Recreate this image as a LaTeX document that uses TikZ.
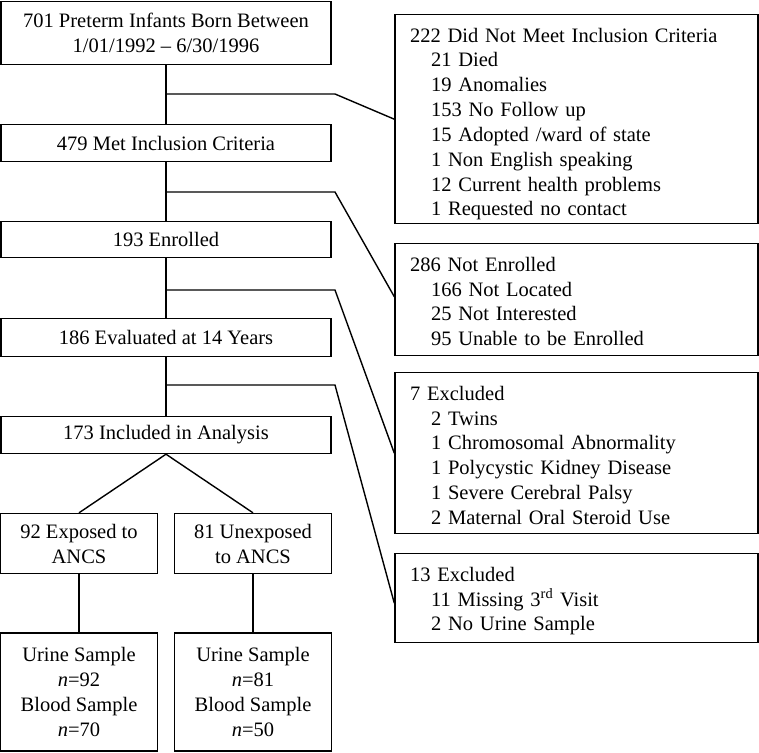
\documentclass[tikz,border=0pt]{standalone}
\usepackage{fontspec}
\setmainfont{Liberation Serif}
\usetikzlibrary{shapes}
\tikzstyle{stage} = [rectangle, minimum width=330pt, minimum height=37pt, inner sep=0pt, text centered, align=center, draw=black, line width=1.4pt, font=\fontsize{20.5}{25}\selectfont]
\tikzstyle{arm} = [stage, minimum width=157pt, minimum height=60pt]
\tikzstyle{sample} = [stage, minimum width=157pt, minimum height=118pt]
\tikzstyle{reason} = [rectangle, anchor=north, minimum width=363pt, text width=333pt, text height=27.5pt, inner xsep=15pt, inner ysep=0pt, align=left, draw=black, line width=1.4pt, font=\fontsize{20.5}{24.8}\selectfont]
\tikzstyle{link} = [line width=1.4pt]
\newcommand{\subline}[1]{\hspace*{21pt}#1}

\begin{document}
\begin{tikzpicture}[x=1pt, y=1pt, yscale=-1]
\useasboundingbox (0,0) rectangle (759,752);

\node at (166, 33) (born) [stage, minimum height=63pt] {701 Preterm Infants Born Between\\1/01/1992 -- 6/30/1996};
\node at (166, 143) (met) [stage] {479 Met Inclusion Criteria};
\node at (166, 239.5) (enrolled) [stage, minimum height=36pt] {193 Enrolled};
\node at (166, 337.5) (evaluated) [stage, minimum height=38pt] {186 Evaluated at 14 Years};
\node at (166, 435) (included) [stage] {173 Included in Analysis};
\node at (79, 543.5) (exposed) [arm] {92 Exposed to\\ANCS};
\node at (253, 543.5) (unexposed) [arm] {81 Unexposed\\to ANCS};
\node at (79, 692) (exposedsample) [sample] {Urine Sample\\\textit{n}=92\\Blood Sample\\\textit{n}=70};
\node at (253, 692) (unexposedsample) [sample] {Urine Sample\\\textit{n}=81\\Blood Sample\\\textit{n}=50};

\node at (576.5, 14) (notmet) [reason, text depth=181.5pt] {222 Did Not Meet Inclusion Criteria\\\subline{21 Died}\\\subline{19 Anomalies}\\\subline{153 No Follow up}\\\subline{15 Adopted /ward of state}\\\subline{1 Non English speaking}\\\subline{12 Current health problems}\\\subline{1 Requested no contact}};
\node at (576.5, 243) (notenrolled) [reason, text depth=84.5pt] {286 Not Enrolled\\\subline{166 Not Located}\\\subline{25 Not Interested}\\\subline{95 Unable to be Enrolled}};
\node at (576.5, 372) (excluded) [reason, text depth=133.5pt] {7 Excluded\\\subline{2 Twins}\\\subline{1 Chromosomal Abnormality}\\\subline{1 Polycystic Kidney Disease}\\\subline{1 Severe Cerebral Palsy}\\\subline{2 Maternal Oral Steroid Use}};
\node at (576.5, 553) (missing) [reason, text depth=61.5pt] {13 Excluded\\\subline{11 Missing 3\textsuperscript{rd} Visit}\\\subline{2 No Urine Sample}};

\coordinate (split1) at (166, 94);
\coordinate (bend1) at (335, 94);
\coordinate (split2) at (166, 192);
\coordinate (bend2) at (335, 192);
\coordinate (split3) at (166, 290);
\coordinate (bend3) at (335, 290);
\coordinate (split4) at (166, 385);
\coordinate (bend4) at (335, 385);

\draw [link] (born) -- (met);
\draw [link] (met) -- (enrolled);
\draw [link] (enrolled) -- (evaluated);
\draw [link] (evaluated) -- (included);
\draw [link] (split1) -- (bend1) -- (notmet.west);
\draw [link] (split2) -- (bend2) -- ([yshift=-3pt]notenrolled.west);
\draw [link] (split3) -- (bend3) -- (excluded.west);
\draw [link] (split4) -- (bend4) -- ([yshift=5pt]missing.west);
\draw [link] (included.south) -- (exposed.north);
\draw [link] (included.south) -- (unexposed.north);
\draw [link] (exposed) -- (exposedsample);
\draw [link] (unexposed) -- (unexposedsample);

\end{tikzpicture}
\end{document}
